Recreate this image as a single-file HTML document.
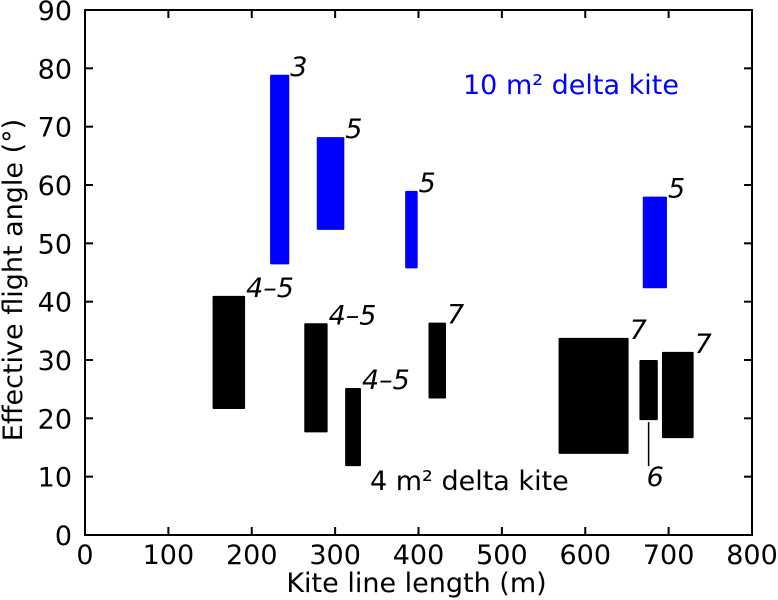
<!DOCTYPE html>
<html><head><meta charset="utf-8"><style>
body{margin:0;background:#fff}
svg{display:block;font-family:"DejaVu Sans","Liberation Sans",sans-serif}
</style></head><body>
<svg id="c" width="778" height="600"></svg>
<script>
const categories=["b1","b2","b3","b4","k1","k2","k3","k4","k5","k6","k7"];
const xStart=[222,278,384,669,153,263,312,412,568,665,692];
const xEnd=[245,311,399,698,192,291,331,433,652,687,730];
const yLow=[46.4,52.3,45.7,42.3,21.6,17.6,11.8,23.4,13.9,19.7,16.6];
const yHigh=[78.9,68.2,59,58,41,36.3,25.2,36.4,33.8,30.0,31.4];
const labels=["3","5","5","5","4–5","4–5","4–5","7","7","6","7"];
const series=["blue","blue","blue","blue","black","black","black","black","black","black","black"];
const xTicks=[0,100,200,300,400,500,600,700,800];
const yTicks=[0,10,20,30,40,50,60,70,80,90];
const L=85,R=752,T=10,B=535;
const sx=v=>L+(v/800)*(R-L), sy=v=>B-(v/90)*(B-T);
const svg=document.getElementById('c');const NS="http://www.w3.org/2000/svg";
function mk(t,a,txt){const e=document.createElementNS(NS,t);for(const k in a)e.setAttribute(k,a[k]);if(txt!=null)e.textContent=txt;svg.appendChild(e);return e;}
categories.forEach((c,i)=>{
 const r=mk('rect',{x:sx(xStart[i]),y:sy(yHigh[i]),width:sx(xEnd[i])-sx(xStart[i]),height:sy(yLow[i])-sy(yHigh[i]),rx:1,fill:series[i]=='blue'?'#0000ff':'#000'});
 
 
 let lx=sx(xEnd[i])+1,ly=sy(yHigh[i])+1;
 if(labels[i]=="6"){
  const ln=mk('line',{x1:sx((xStart[i]+xEnd[i])/2),y1:sy(yLow[i])+2,x2:sx((xStart[i]+xEnd[i])/2),y2:sy(yLow[i])+46,stroke:'#000','stroke-width':1.5});
  
  
  lx=sx((xStart[i]+xEnd[i])/2)-2;ly=sy(yLow[i])+66;
 }
 const t=mk('text',{x:lx,y:ly,'font-size':27,'font-style':'italic',fill:'#000'},labels[i]);
 
 
});
const fr=mk('rect',{x:L,y:T,width:R-L,height:B-T,fill:'none',stroke:'#000','stroke-width':2});


xTicks.forEach(v=>{
 mk('line',{x1:sx(v),x2:sx(v),y1:B,y2:B-8,stroke:'#000','stroke-width':2});
 mk('line',{x1:sx(v),x2:sx(v),y1:T,y2:T+8,stroke:'#000','stroke-width':2});
 const t=mk('text',{x:sx(v),y:B+29,'font-size':27,'text-anchor':'middle'},v);
 
 
});
yTicks.forEach(v=>{
 mk('line',{x1:L,x2:L+8,y1:sy(v),y2:sy(v),stroke:'#000','stroke-width':2});
 mk('line',{x1:R,x2:R-8,y1:sy(v),y2:sy(v),stroke:'#000','stroke-width':2});
 const t=mk('text',{x:L-13,y:sy(v)+10,'font-size':27,'text-anchor':'end'},v);
 
 
});
let t=mk('text',{x:(L+R)/2-2,y:592,'font-size':27,'text-anchor':'middle'},'Kite line length (m)');


t=mk('text',{x:0,y:0,'font-size':27,'text-anchor':'middle',transform:'translate(22,280) rotate(-90)'},'Effective flight angle (°)');


t=mk('text',{x:463,y:94,'font-size':27,fill:'#0000ff'},'10 m² delta kite');


t=mk('text',{x:370,y:490,'font-size':27,fill:'#000'},'4 m² delta kite');


</script>
</body></html>
